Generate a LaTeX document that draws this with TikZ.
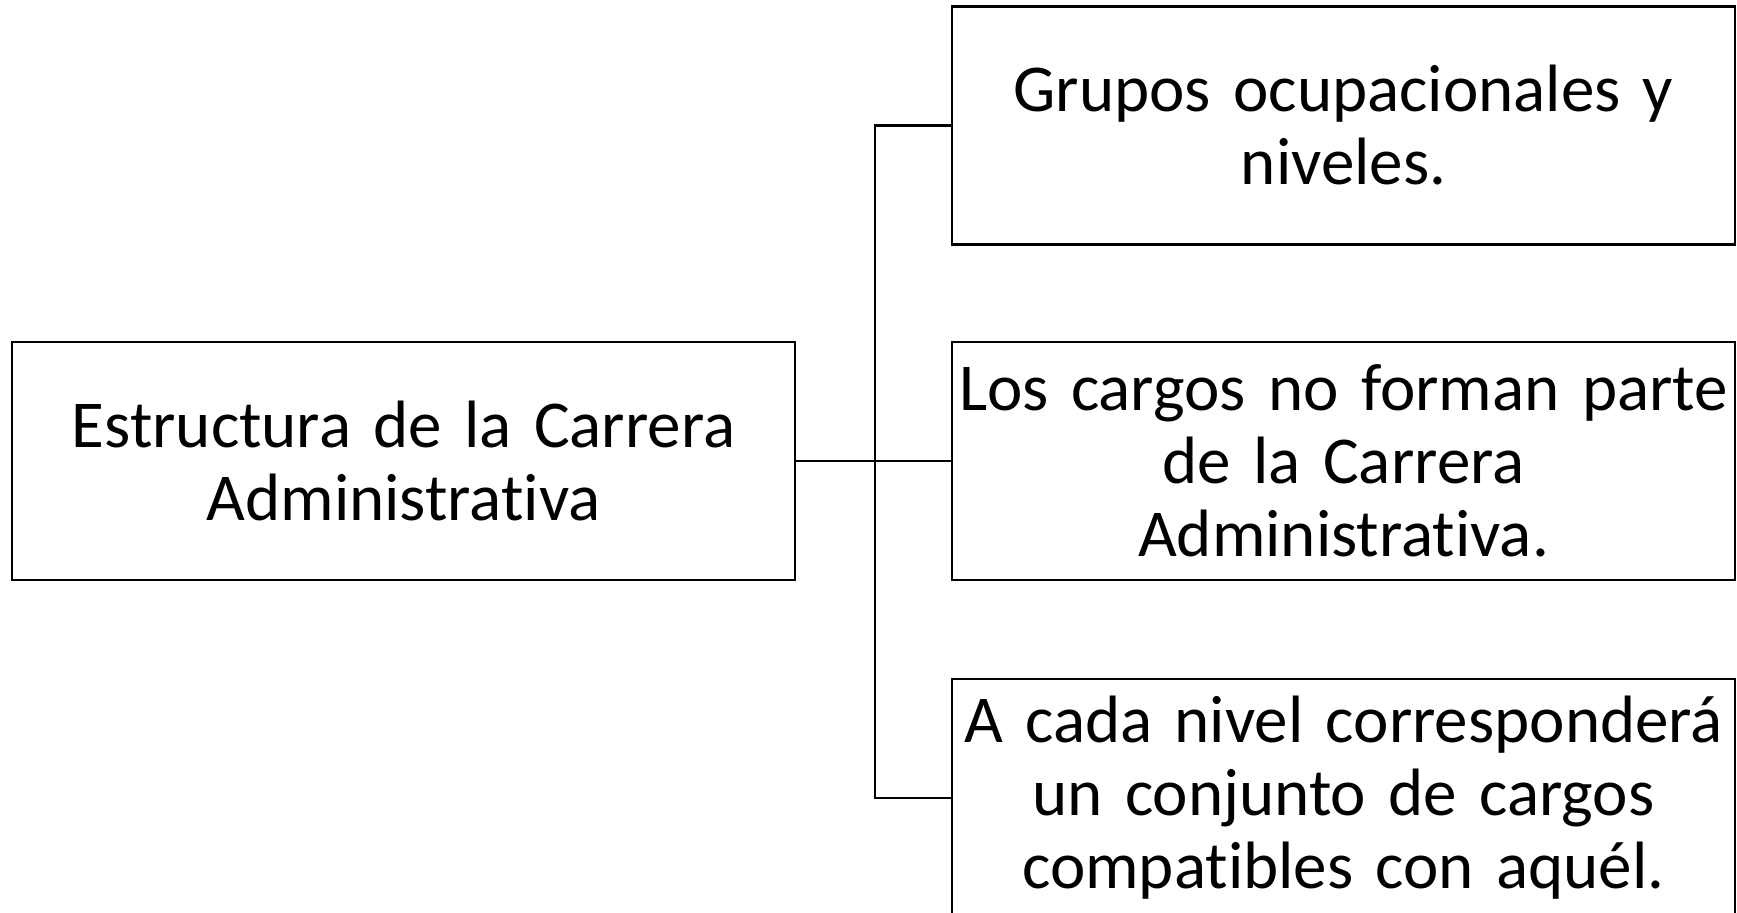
\documentclass[tikz,border=0pt]{standalone}
\usepackage{fontspec}
\setmainfont[Ligatures=NoCommon]{Carlito}
\tikzset{
    caja/.style={draw=black, line width=1.1pt, minimum width=391.5pt, minimum height=119pt,
                 text width=389pt, align=center, inner sep=1pt,
                 font=\fontsize{33.5}{36.5}\selectfont},
    linea/.style={draw=black, line width=1.1pt}
}
\begin{document}
\begin{tikzpicture}[x=0.5pt, y=-0.5pt]
            \useasboundingbox (0,0) rectangle (1737,913);
            \clip (0,0) rectangle (1737,913);

            \node[caja] (estructura) at (403.5, 461) {Estructura de la Carrera\\Administrativa};

            \foreach \y/\txt [count=\i] in {125.5/{Grupos ocupacionales y\\niveles.},
                                            461/{Los cargos no forman parte\\de la Carrera\\Administrativa.},
                                            798/{A cada nivel corresponderá\\un conjunto de cargos\\compatibles con aquél.}} {
                    \node[caja] (nivel\i) at (1343.5, \y) {\txt};
                }

            \coordinate (tronco) at (875, 461);
            \draw[linea] (estructura.east) -- (nivel2.west);
            \draw[linea] (nivel1.west) -| (tronco) |- (nivel3.west);
        \end{tikzpicture}
\end{document}
